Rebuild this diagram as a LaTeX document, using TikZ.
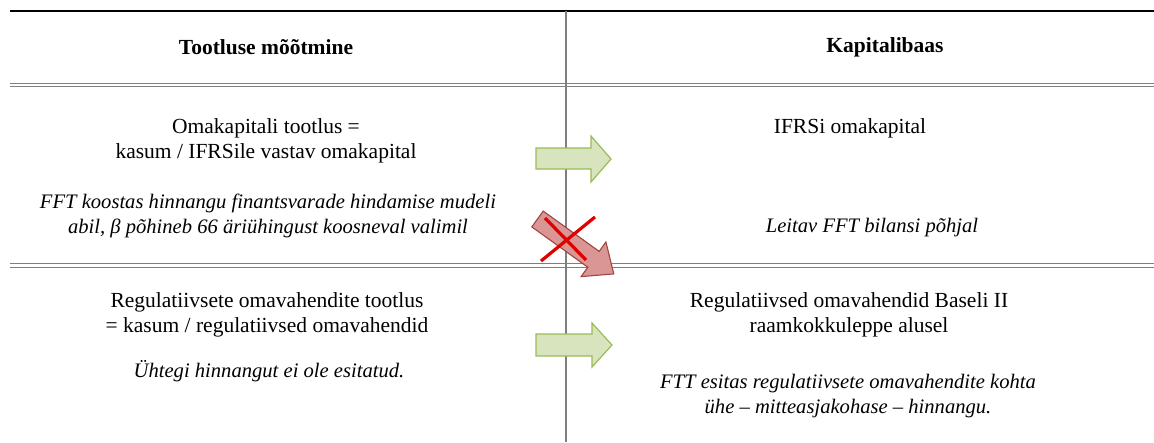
\documentclass[tikz,border=0pt]{standalone}
\usepackage{fontspec}
\setmainfont{Liberation Serif}
\definecolor{okfill}{HTML}{D7E4BD}
\definecolor{okline}{HTML}{9BBB59}
\definecolor{badfill}{HTML}{D99694}
\definecolor{badline}{HTML}{A04543}
\definecolor{crossred}{HTML}{E00000}
\definecolor{rulegray}{HTML}{7F7F7F}
\tikzset{
  txt/.style={font=\fontsize{21.5}{25}\selectfont, align=center, inner sep=0pt},
  itx/.style={font=\fontsize{20.6}{25}\selectfont\itshape, align=center, inner sep=0pt},
  hdr/.style={font=\fontsize{21.5}{25}\selectfont\bfseries, align=center, inner sep=0pt},
  toprule/.style={draw=black, line width=1.4pt},
  gridrule/.style={draw=rulegray, line width=1.2pt},
  okarrow/.style={fill=okfill, draw=okline, line width=1.2pt, line join=miter},
  badarrow/.style={fill=badfill, draw=badline, line width=1.1pt, line join=miter},
  cross/.style={draw=crossred, line width=3.2pt}
}
\begin{document}
\begin{tikzpicture}[x=1pt,y=-1pt]
\useasboundingbox (0,0) rectangle (1154,442);
% table rules
\draw[toprule] (10,11) -- (1154,11);
\draw[gridrule] (566,11) -- (566,442);
\draw[gridrule] (10,83.5) -- (1154,83.5);
\draw[gridrule] (10,86.8) -- (1154,86.8);
\draw[gridrule] (10,263.8) -- (1154,263.8);
\draw[gridrule] (10,267.1) -- (1154,267.1);
% headers
\node[hdr] (h1) at (266,47) {Tootluse mõõtmine};
\node[hdr] (h2) at (885,47) {Kapitalibaas};
% row 1
\node[txt] (a1) at (266,140.5) {Omakapitali tootlus =\\kasum / IFRSile vastav omakapital};
\node[itx] (a2) at (268,215.5) {FFT koostas hinnangu finantsvarade hindamise mudeli\\abil, β põhineb 66 äriühingust koosneval valimil};
\node[txt] (b1) at (850,128) {IFRSi omakapital};
\node[itx] (b2) at (872,228) {Leitav FFT bilansi põhjal};
% row 2
\node[txt] (a3) at (267,315) {Regulatiivsete omavahendite tootlus\\= kasum / regulatiivsed omavahendid};
\node[itx] (a4) at (269,371) {Ühtegi hinnangut ei ole esitatud.};
\node[txt] (b3) at (849,315) {Regulatiivsed omavahendid Baseli II\\raamkokkuleppe alusel};
\node[itx] (b4) at (848,396) {FTT esitas regulatiivsete omavahendite kohta\\ühe – mitteasjakohase – hinnangu.};
% green arrows
\draw[okarrow] (536,148) -- (591,148) -- (591,136) -- (611,159) -- (591,182) -- (591,169) -- (536,169) -- cycle;
\draw[okarrow] (536,334) -- (592,334) -- (592,323) -- (612,345) -- (592,367) -- (592,356) -- (536,356) -- cycle;
% red crossed arrow
\draw[badarrow] (543.2,211.1) -- (599.2,251.4) -- (605.9,242.0) -- (613.8,273.9) -- (581.1,276.6) -- (587.8,267.2) -- (531.8,226.9) -- cycle;
\draw[cross] (545,218) -- (586,260);
\draw[cross] (595,217) -- (541,261);
\end{tikzpicture}
\end{document}
